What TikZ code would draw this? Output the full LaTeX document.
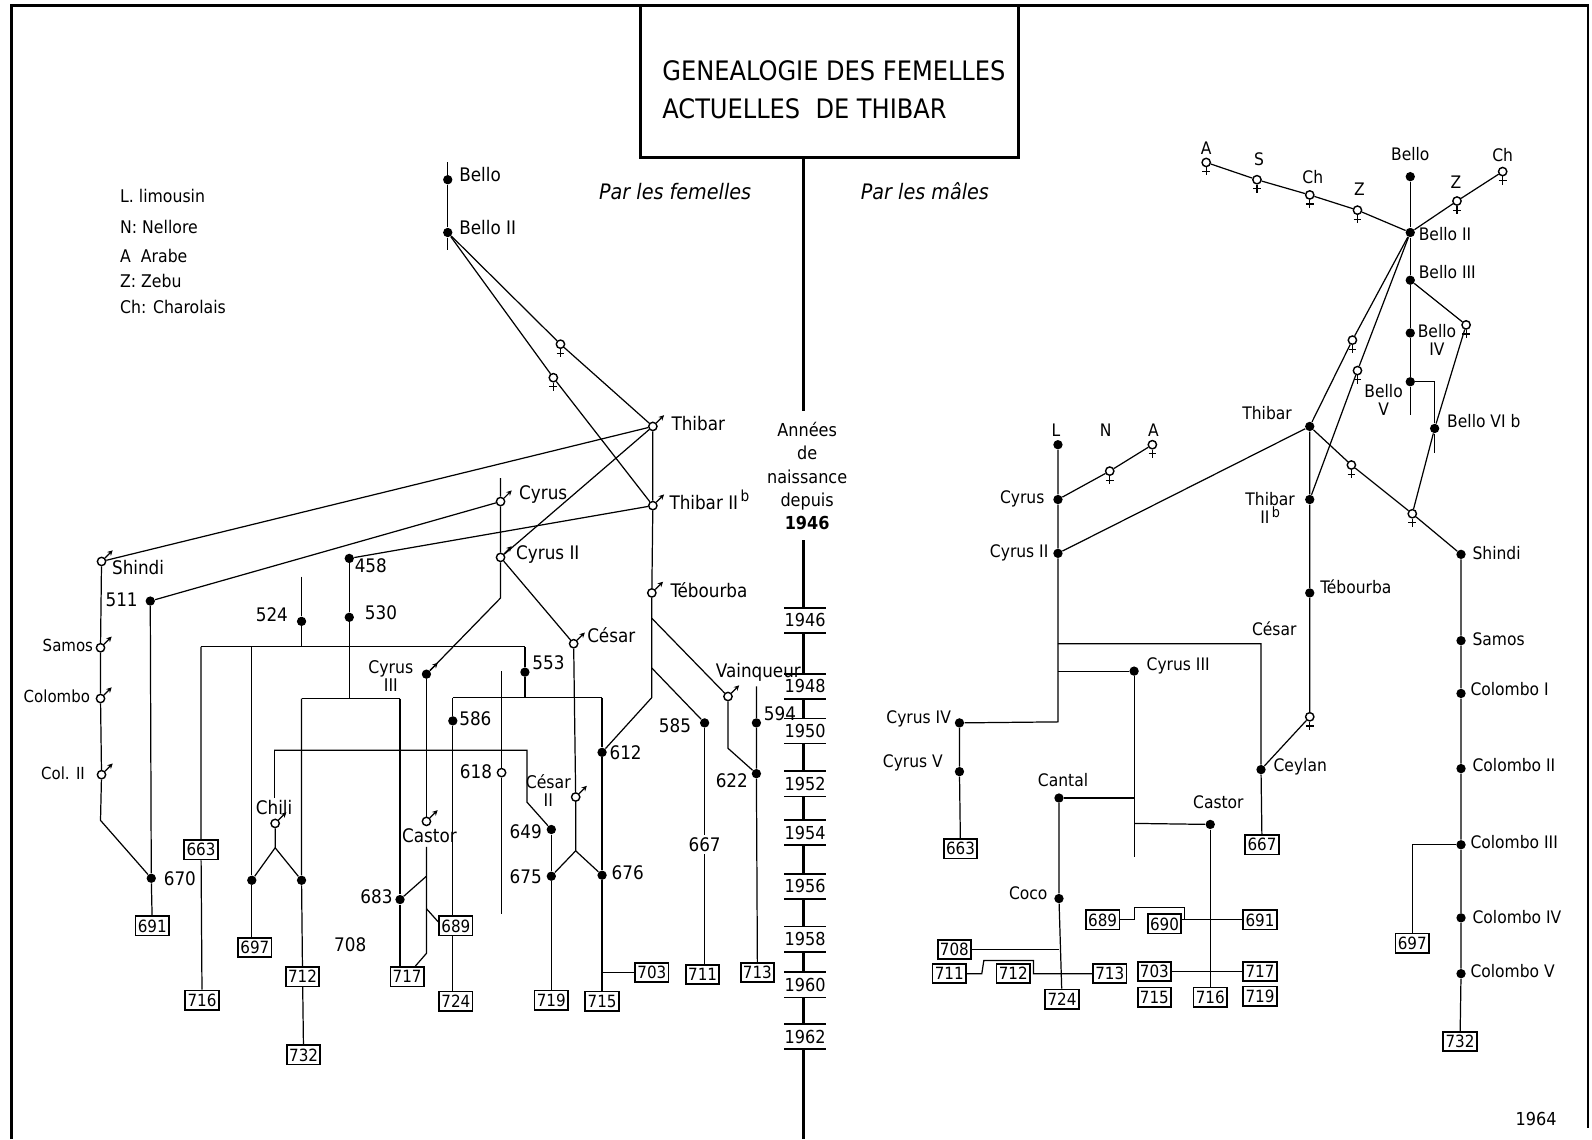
\documentclass[tikz,border=0pt]{standalone}
\usepackage{fontspec}
\setmainfont{DejaVu Sans Condensed}
\usetikzlibrary{arrows.meta}
\newcommand\setfs[1]{\fontsize{#1}{#1}\selectfont}
\newcommand\malemark[1]{\draw[ln,-{Stealth[length=2.6pt,width=2.6pt]}] (#1.45) -- ++(45:5.4pt);}
\newcommand\femmark[1]{\draw[ln] (#1.south) -- ++(0,-4pt) (#1.south) ++(-1.9pt,-2.1pt) -- ++(3.8pt,0);}
\begin{document}
\begin{tikzpicture}[x=0.5pt,y=-0.5pt,
  ln/.style={line width=0.6pt},
  tl/.style={line width=1.5pt},
  dot/.style={circle,fill,inner sep=0pt,minimum size=4.6pt},
  oc/.style={circle,draw,line width=0.7pt,fill=white,inner sep=0pt,minimum size=4.1pt},
  bx/.style={draw,line width=0.85pt,inner sep=0.8pt,minimum width=16.5pt,minimum height=9.5pt,font=\setfs{8.3}},
  labL/.style={inner sep=1pt,font=\fontsize{9.2}{9.2}\selectfont},
  labS/.style={inner sep=1pt,font=\setfs{8.2}},
  numL/.style={inner sep=1pt,font=\setfs{9.2}},
  labR/.style={inner sep=1pt,font=\fontsize{8.5}{9}\selectfont},
  leg/.style={inner sep=0pt,anchor=west,font=\setfs{8.6}},
  yrn/.style={inner sep=0pt,minimum width=20pt,minimum height=12pt,font=\setfs{8.8}}]
\useasboundingbox (0,0) rectangle (1568,1122);

% frame
\draw[line width=1.4pt] (11.5,1122) -- (11.5,5.5) -- (1564,5.5) -- (1564,1111);

% title
\node[draw,line width=1.3pt,minimum width=186pt,minimum height=74.8pt,inner sep=0pt] (titlebox) at (817,80.3) {};
\node[anchor=west,inner sep=0pt,font=\setfs{13.2}] (title1) at (652,70) {GENEALOGIE DES FEMELLES};
\node[anchor=west,inner sep=0pt,font=\setfs{13.2}] (title2) at (652,107) {ACTUELLES\ \ DE THIBAR};

% legend
\node[leg] (legL) at (118,193) {L. limousin};
\node[leg] (legN) at (118,224) {N: Nellore};
\node[leg] (legA) at (118,252) {A\ \ Arabe};
\node[leg] (legZ) at (118,277) {Z: Zebu};
\node[leg] (legCh) at (118,302) {Ch: Charolais};

\node[font=\itshape\setfs{10.5}] (parF) at (665,189) {Par les femelles};
\node[font=\itshape\setfs{10.5}] (parM) at (911,188) {Par les mâles};
\node[font=\setfs{8.8}] (an1964) at (1513,1102) {1964};

% timeline
\coordinate (tlTop) at (791,155);
\coordinate (tlA) at (791,405);
\coordinate (tlB) at (791,532);
\coordinate (tlEnd) at (791,1122);
\node[align=center,inner sep=0pt,font=\fontsize{8.8}{11.5}\selectfont] (annees) at (795,469) {Années\\de\\naissance\\depuis\\\textbf{1946}};
\draw[tl] (tlTop) -- (tlA);
\foreach \yr/\yy in {1946/611,1948/676,1950/720,1952/772,1954/820,1956/873,1958/925,1960/970,1962/1021}{
  \node[yrn] (y\yr) at (793,\yy) {\yr};
  \draw[line width=0.8pt] (y\yr.north west) -- (y\yr.north east) (y\yr.south west) -- (y\yr.south east);
}
\draw[tl] (tlB) -- (tlB |- y1946.north);
\draw[tl] (tlB |- y1946.south) -- (tlB |- y1948.north);
\draw[tl] (tlB |- y1948.south) -- (tlB |- y1950.north);
\draw[tl] (tlB |- y1950.south) -- (tlB |- y1952.north);
\draw[tl] (tlB |- y1952.south) -- (tlB |- y1954.north);
\draw[tl] (tlB |- y1954.south) -- (tlB |- y1956.north);
\draw[tl] (tlB |- y1956.south) -- (tlB |- y1958.north);
\draw[tl] (tlB |- y1958.south) -- (tlB |- y1960.north);
\draw[tl] (tlB |- y1960.south) -- (tlB |- y1962.north);
\draw[tl] (tlB |- y1962.south) -- (tlEnd);

%%%%%%%%%%%%%%%% LEFT TREE %%%%%%%%%%%%%%%%
\node[dot] (bello) at (441,177) {};
\node[dot] (belloII) at (441,229) {};
\coordinate (belloT) at (441,160);
\coordinate (belloB) at (441,246);
\node[labL,anchor=west] (tbello) at (450,172) {Bello};
\node[labL,anchor=west] (tbelloII) at (450,224) {Bello II};

\node[oc] (fA) at (552,339) {};
\node[oc] (fB) at (545,372) {};

\node[oc] (thibar) at (643,420) {};
\node[labL,anchor=west] (tthibar) at (659,417) {Thibar};
\node[oc] (thibarII) at (643,498) {};
\node[labL,anchor=west] (tthibarII) at (657,492) {Thibar II\raisebox{3.8pt}{\setfs{7.5}\,b}};
\node[oc] (tebourba) at (642,584) {};
\node[labL,anchor=west] (ttebourba) at (658,581) {Tébourba};
\node[oc] (cyrus) at (493,494) {};
\node[labL,anchor=west] (tcyrus) at (509,487) {Cyrus};
\node[oc] (cyrusII) at (493,549) {};
\node[labL,anchor=west] (tcyrusII) at (506,546) {Cyrus II};
\node[oc] (cesar) at (565,634) {};
\node[labL,anchor=west] (tcesar) at (576,626) {César};
\node[oc] (cesarII) at (567,785) {};
\node[labL,align=center,font=\fontsize{8.6}{8.8}\selectfont] (tcesarII) at (540,779) {César\\II};
\node[oc] (vainqueur) at (717,686) {};
\node[labL] (tvainqueur) at (747,662) {Vainqueur};
\node[oc] (chili) at (271,811) {};
\node[labL] (tchili) at (270,795) {Chili};
\node[oc] (castor) at (420,809) {};
\node[labL] (tcastor) at (423,823) {Castor};
\node[oc] (shindi) at (100,553) {};
\node[labL,anchor=west] (tshindi) at (108,559) {Shindi};
\node[oc] (samos) at (99,638) {};
\node[labS,anchor=east] (tsamos) at (94,636) {Samos};
\node[oc] (colombo) at (99,688) {};
\node[labS,anchor=east] (tcolombo) at (91,686) {Colombo};
\node[oc] (colII) at (100,763) {};
\node[labS,anchor=east] (tcolII) at (86,762) {Col. II};
\node[oc] (n618) at (494,761) {};
\node[numL,anchor=east] (t618) at (487,760) {618};

\node[dot] (cyrusIII) at (420,664) {};
\node[labL,align=center,font=\fontsize{8.6}{8.8}\selectfont] (tcyrusIII) at (385,666) {Cyrus\\III};
\node[dot] (n511) at (148,592) {};
\node[numL,anchor=east] (t511) at (138,591) {511};
\node[dot] (n458) at (344,550) {};
\node[numL,anchor=west] (t458) at (347,557) {458};
\node[dot] (n524) at (297,612) {};
\node[numL,anchor=east] (t524) at (286,605) {524};
\node[dot] (n530) at (344,608) {};
\node[numL,anchor=west] (t530) at (357,603) {530};
\node[dot] (n553) at (517,662) {};
\node[numL,anchor=west] (t553) at (522,653) {553};
\node[dot] (n586) at (446,710) {};
\node[numL,anchor=west] (t586) at (450,708) {586};
\node[dot] (n612) at (593,741) {};
\node[numL,anchor=west] (t612) at (598,741) {612};
\node[dot] (n585) at (694,712) {};
\node[numL,anchor=east] (t585) at (683,715) {585};
\node[dot] (n594) at (745,712) {};
\node[numL,anchor=west] (t594) at (750,703) {594};
\node[dot] (n622) at (745,762) {};
\node[numL,anchor=east] (t622) at (739,769) {622};
\node[dot] (n670) at (149,865) {};
\node[numL,anchor=west] (t670) at (159,865) {670};
\node[dot] (n649) at (543,817) {};
\node[numL,anchor=east] (t649) at (536,819) {649};
\node[dot] (n675) at (543,863) {};
\node[numL,anchor=east] (t675) at (536,863) {675};
\node[dot] (n676) at (593,862) {};
\node[numL,anchor=west] (t676) at (600,860) {676};
\node[dot] (n683) at (394,886) {};
\node[numL,anchor=east] (t683) at (389,883) {683};
\node[dot] (chilL) at (248,867) {};
\node[dot] (chilR) at (297,867) {};
\node[numL] (t708) at (345,930) {708};
\node[numL] (t667) at (694,832) {667};

\node[bx] (b663) at (198,837) {663};
\node[bx] (b716) at (199,985) {716};
\node[bx] (b691) at (150,912) {691};
\node[bx] (b697) at (251,933) {697};
\node[bx] (b712) at (298,962) {712};
\node[bx] (b732) at (299,1039) {732};
\node[bx] (b717) at (401,962) {717};
\node[bx] (b689) at (449,912) {689};
\node[bx] (b724) at (449,986) {724};
\node[bx] (b719) at (543,985) {719};
\node[bx] (b715) at (593,986) {715};
\node[bx] (b703) at (642,958) {703};
\node[bx] (b711) at (692,960) {711};
\node[bx] (b713) at (746,958) {713};

% left connectors
\draw[ln] (belloT) -- (bello) -- (belloII) -- (belloB);
\draw[ln] (belloII) -- (fA) -- (thibar);
\draw[ln] (belloII) -- (fB) -- (thibarII);
\coordinate (teb1) at (642,609);
\coordinate (teb2) at (642,658);
\coordinate (teb3) at (642,687);
\draw[ln] (thibar) -- (thibarII) -- (tebourba) -- (teb3) -- (n612);
\draw[ln] (teb1) -- (vainqueur);
\draw[ln] (teb2) -- (n585);
\draw[ln] (thibar) -- (shindi);
\draw[ln] (thibar) -- (cyrusII);
\draw[ln] (n511) -- (cyrus);
\draw[ln] (n458) -- (thibarII);
\coordinate (cyT) at (493,471);
\coordinate (cyB) at (493,589);
\draw[ln] (cyT) -- (cyrus) -- (cyrusII) -- (cyB) -- (cyrusIII);
\draw[ln] (cyrusII) -- (cesar);
\coordinate (cesF) at (567,838);
\draw[ln] (cesar) -- (cesarII) -- (cesF) -- (n675);
\draw[ln] (cesF) -- (n676);
\coordinate (colB) at (99,808);
\draw[ln] (shindi) -- (samos) -- (colombo) -- (colII) -- (colB) -- (n670);
\draw[ln] (n511) -- (n670) -- (b691);
\coordinate (br530) at (344,688);
\draw[ln] (n458) -- (n530) -- (br530);
\coordinate (br530L) at (297,688);
\coordinate (br530R) at (394,688);
\draw[ln] (br530L) -- (br530R);
\draw[ln] (br530L) -- (chilR) -- (b712) -- (b732);
\draw[ln] (br530R) -- (n683) -- (n683 |- b717.north);
\coordinate (c524T) at (297,568);
\coordinate (c524B) at (297,637);
\draw[ln] (c524T) -- (n524) -- (c524B);
\coordinate (br524L) at (198,637);
\coordinate (br524M) at (248,637);
\coordinate (br524R) at (517,637);
\draw[ln] (br524L) -- (br524R);
\draw[ln] (br524L) -- (b663) -- (b716);
\draw[ln] (br524M) -- (chilL) -- (chilL |- b697.north);
\coordinate (c553B) at (517,687);
\draw[ln] (br524R) -- (n553) -- (c553B);
\coordinate (br586L) at (446,687);
\coordinate (br586R) at (593,687);
\draw[ln] (br586L) -- (br586R);
\draw[ln] (br586L) -- (n586) -- (n586 |- b689.north);
\draw[ln] (n586 |- b689.south) -- (n586 |- b724.north);
\draw[ln] (br586R) -- (n612) -- (n676) -- (b715);
\coordinate (j703) at (593,958);
\draw[ln] (j703) -- (b703);
\coordinate (brChL) at (270,739);
\coordinate (brChR) at (519,739);
\coordinate (brChD) at (519,790);
\draw[ln] (brChL) -- (brChR) -- (brChD) -- (n649);
\draw[ln] (brChL) -- (tchili);
\coordinate (chF) at (271,835);
\draw[ln] (chili) -- (chF) -- (chilL);
\draw[ln] (chF) -- (chilR);
\draw[ln] (n649) -- (n675) -- (b719);
\coordinate (c618T) at (494,661);
\coordinate (c618B) at (494,900);
\draw[ln] (c618T) -- (n618) -- (c618B);
\draw[ln] (cyrusIII) -- (castor);
\coordinate (caT) at (420,834);
\coordinate (ca1) at (420,863);
\coordinate (ca2) at (420,895);
\coordinate (caB) at (420,939);
\draw[ln] (caT) -- (caB) -- ([xshift=4pt]b717.north);
\draw[ln] (ca1) -- (n683);
\draw[ln] (ca2) -- ([yshift=2pt]b689.west);
\coordinate (vaB) at (717,737);
\draw[ln] (vainqueur) -- (vaB) -- (n622);
\coordinate (c594T) at (745,676);
\draw[ln] (c594T) -- (n594) -- (n622) -- (b713);
\draw[ln] (n585) -- (t667) -- (n585 |- b711.north);

% marks left
\femmark{fA}\femmark{fB}
\malemark{thibar}\malemark{thibarII}\malemark{tebourba}\malemark{cyrus}\malemark{cyrusII}
\malemark{cesar}\malemark{cesarII}\malemark{vainqueur}\malemark{chili}\malemark{castor}
\malemark{shindi}\malemark{samos}\malemark{colombo}\malemark{colII}\malemark{cyrusIII}

%%%%%%%%%%%%%%%% RIGHT TREE %%%%%%%%%%%%%%%%
\node[dot] (rBello) at (1389,174) {};
\node[dot] (rBelloII) at (1389,229) {};
\node[dot] (rBelloIII) at (1389,276) {};
\node[dot] (rBelloIV) at (1389,328) {};
\node[dot] (rBelloV) at (1389,376) {};
\node[dot] (rBelloVIb) at (1413,422) {};
\node[dot] (rThibar) at (1290,420) {};
\node[dot] (rThibarII) at (1290,492) {};
\node[dot] (rTebourba) at (1290,584) {};
\node[dot] (rShindi) at (1439,546) {};
\node[dot] (rSamos) at (1439,631) {};
\node[dot] (rColI) at (1439,683) {};
\node[dot] (rColII) at (1439,757) {};
\node[dot] (rColIII) at (1439,832) {};
\node[dot] (rColIV) at (1439,904) {};
\node[dot] (rColV) at (1439,959) {};
\node[dot] (rL) at (1042,438) {};
\node[dot] (rCyrus) at (1042,492) {};
\node[dot] (rCyrusII) at (1042,545) {};
\node[dot] (rCyrusIII) at (1117,661) {};
\node[dot] (rCyrusIV) at (945,712) {};
\node[dot] (rCyrusV) at (945,760) {};
\node[dot] (rCantal) at (1043,786) {};
\node[dot] (rCastor) at (1192,812) {};
\node[dot] (rCoco) at (1043,885) {};
\node[dot] (rCeylan) at (1242,758) {};

\node[oc] (rfA) at (1188,160) {};
\node[oc] (rfS) at (1238,177) {};
\node[oc] (rfCh) at (1290,192) {};
\node[oc] (rfZ) at (1337,207) {};
\node[oc] (rfZ2) at (1435,198) {};
\node[oc] (rfCh2) at (1480,169) {};
\node[oc] (rfN) at (1093,464) {};
\node[oc] (rfA2) at (1135,438) {};
\node[oc] (rf1) at (1332,335) {};
\node[oc] (rf2) at (1337,365) {};
\node[oc] (rf3) at (1444,320) {};
\node[oc] (rf4) at (1331,458) {};
\node[oc] (rf5) at (1391,506) {};
\node[oc] (rf6) at (1290,706) {};

\node[bx] (r663) at (946,836) {663};
\node[bx] (r667) at (1243,832) {667};
\node[bx] (r689) at (1086,906) {689};
\node[bx] (r690) at (1147,910) {690};
\node[bx] (r691) at (1241,906) {691};
\node[bx] (r708) at (940,935) {708};
\node[bx] (r711) at (935,959) {711};
\node[bx] (r712) at (998,959) {712};
\node[bx] (r713) at (1093,959) {713};
\node[bx] (r703) at (1137,957) {703};
\node[bx] (r715) at (1137,982) {715};
\node[bx] (r716) at (1192,982) {716};
\node[bx] (r717) at (1241,957) {717};
\node[bx] (r719) at (1241,981) {719};
\node[bx] (r724) at (1046,984) {724};
\node[bx] (r697) at (1391,929) {697};
\node[bx] (r732) at (1438,1026) {732};

% right labels
\node[labR] (trBello) at (1389,152) {Bello};
\node[labR,anchor=west] (trBelloII) at (1395,231) {Bello II};
\node[labR,anchor=west] (trBelloIII) at (1395,268) {Bello III};
\node[labR,anchor=west,align=center] (trBelloIV) at (1394,335) {Bello\\IV};
\node[labR,anchor=east,align=center] (trBelloV) at (1384,394) {Bello\\V};
\node[labR,anchor=west] (trBelloVIb) at (1423,415) {Bello VI b};
\node[labR] (trThibar) at (1248,407) {Thibar};
\node[labR,align=center] (trThibarII) at (1251,500) {Thibar\\II\raisebox{3pt}{\setfs{7}\,b}};
\node[labR,anchor=west] (trTebourba) at (1298,578) {Tébourba};
\node[labR] (trCesar) at (1255,619) {César};
\node[labR,anchor=west] (trCeylan) at (1252,755) {Ceylan};
\node[labR,anchor=west] (trShindi) at (1448,545) {Shindi};
\node[labR,anchor=west] (trSamos) at (1448,630) {Samos};
\node[labR,anchor=west] (trColI) at (1446,679) {Colombo I};
\node[labR,anchor=west] (trColII) at (1448,754) {Colombo II};
\node[labR,anchor=west] (trColIII) at (1446,829) {Colombo III};
\node[labR,anchor=west] (trColIV) at (1448,903) {Colombo IV};
\node[labR,anchor=west] (trColV) at (1446,956) {Colombo V};
\node[labR] (trL) at (1040,424) {L};
\node[labR] (trN) at (1089,424) {N};
\node[labR] (trA2) at (1136,424) {A};
\node[labR,anchor=east] (trCyrus) at (1031,491) {Cyrus};
\node[labR,anchor=east] (trCyrusII) at (1035,545) {Cyrus II};
\node[labR,anchor=west] (trCyrusIII) at (1127,656) {Cyrus III};
\node[labR,anchor=east] (trCyrusIV) at (939,708) {Cyrus IV};
\node[labR,anchor=east] (trCyrusV) at (931,751) {Cyrus V};
\node[labR] (trCantal) at (1047,768) {Cantal};
\node[labR] (trCastor) at (1200,790) {Castor};
\node[labR,anchor=east] (trCoco) at (1034,880) {Coco};
\node[labR] (trA) at (1188,146) {A};
\node[labR] (trS) at (1240,157) {S};
\node[labR] (trCh) at (1293,174) {Ch};
\node[labR] (trZ) at (1339,186) {Z};
\node[labR] (trZ2) at (1434,179) {Z};
\node[labR] (trCh2) at (1480,153) {Ch};

% right connectors
\draw[ln] (rfA) -- (rfS) -- (rfCh) -- (rfZ) -- (rBelloII);
\coordinate (rBVend) at (1389,409);
\draw[ln] (rBello) -- (rBelloII) -- (rBelloIII) -- (rBelloIV) -- (rBelloV) -- (rBVend);
\draw[ln] (rBelloII) -- (rfZ2) -- (rfCh2);
\draw[ln] (rBelloIII) -- (rf3) -- (rBelloVIb) -- (rf5);
\coordinate (rBVr) at (1413,376);
\coordinate (rBVIend) at (1413,446);
\draw[ln] (rBelloV) -- (rBVr) -- (rBelloVIb) -- (rBVIend);
\draw[ln] (rBelloII) -- (rf1) -- (rThibar);
\draw[ln] (rBelloII) -- (rf2) -- (rThibarII);
\draw[ln] (rThibar) -- (rThibarII) -- (rTebourba) -- (rf6) -- (rCeylan);
\draw[ln] (rThibar) -- (rf4) -- (rf5) -- (rShindi);
\draw[ln] (rThibar) -- (rCyrusII);
\draw[ln] (rShindi) -- (rSamos) -- (rColI) -- (rColII) -- (rColIII) -- (rColIV) -- (rColV) -- (r732);
\coordinate (rC3L) at (1391,832);
\draw[ln] (rColIII) -- (rC3L) -- (r697);
\coordinate (rCyB) at (1042,711);
\draw[ln] (rL) -- (rCyrus) -- (rCyrusII) -- (rCyB) -- (rCyrusIV);
\draw[ln] (rCyrus) -- (rfN) -- (rfA2);
\coordinate (rCesL) at (1042,634);
\coordinate (rCesR) at (1242,634);
\draw[ln] (rCesL) -- (rCesR) -- (rCeylan) -- (r667);
\coordinate (rC3j) at (1042,661);
\draw[ln] (rC3j) -- (rCyrusIII);
\coordinate (rC3B) at (1117,844);
\coordinate (rCan) at (1117,786);
\coordinate (rCas) at (1117,811);
\draw[ln] (rCyrusIII) -- (rC3B);
\draw[ln] (rCantal) -- (rCan);
\draw[ln] (rCas) -- (rCastor);
\draw[ln] (rCastor) -- (r716);
\draw[ln] (rCantal) -- (rCoco) -- (r724);
\draw[ln] (rCyrusIV) -- (rCyrusV) -- (r663);
\coordinate (r708j) at (1043,935);
\draw[ln] (r708) -- (r708j);
\coordinate (h1) at (967,959);
\coordinate (h2) at (969,946);
\coordinate (h3) at (1018,946);
\coordinate (h4) at (1018,959);
\draw[ln] (r711) -- (h1) -- (h2) -- (h3) -- (h4) -- (r713);
\coordinate (k1) at (1117,906);
\coordinate (k2) at (1117,894);
\coordinate (k3) at (1167,894);
\coordinate (k4) at (1167,906);
\draw[ln] (r689) -- (k1) -- (k2) -- (k3) -- (k4);
\draw[ln] (r690.east |- k4) -- (r691);
\draw[ln] (r703) -- (r717);

% marks right
\femmark{rfA}\femmark{rfS}\femmark{rfCh}\femmark{rfZ}\femmark{rfZ2}\femmark{rfCh2}
\femmark{rfN}\femmark{rfA2}\femmark{rf1}\femmark{rf2}\femmark{rf3}\femmark{rf4}\femmark{rf5}\femmark{rf6}
\end{tikzpicture}
\end{document}
